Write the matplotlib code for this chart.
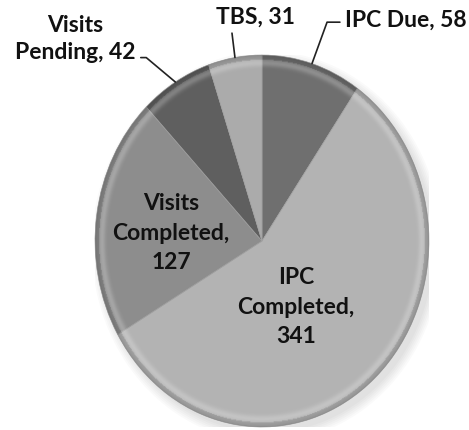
import numpy as np
import matplotlib.pyplot as plt
from matplotlib.patches import Circle

# Slice data (clockwise from 12 o'clock)
labels = ["IPC Due", "IPC Completed", "Visits Completed", "Visits Pending", "TBS"]
values = [58, 341, 127, 42, 31]
colors = ["#6f6f6f", "#b3b3b3", "#8d8d8d", "#5f5f5f", "#ababab"]

plt.rcParams['font.family'] = ['Lato', 'DejaVu Sans']

fig = plt.figure(figsize=(4.69, 4.30), dpi=100)
ax = fig.add_axes([0.2026, 0.007, 0.712, 0.865])

# soft drop shadow
for k in range(6):
    s = Circle((0.03, -0.03), 1.0 + 0.01 * k, color="black", alpha=0.02, zorder=0, lw=0)
    ax.add_patch(s)

wedges, _ = ax.pie(values, colors=colors, startangle=90, counterclock=False,
                   radius=1.0, wedgeprops=dict(edgecolor="#a0a0a0", linewidth=0.5))
for w in wedges:
    w.set_zorder(2)

# bevel shading over the pie
n = 400
g = np.linspace(-1, 1, n)
X, Y = np.meshgrid(g, g)
R = np.sqrt(X ** 2 + Y ** 2)
rgba = np.zeros((n, n, 4))
dark = np.clip((R - 0.93) / 0.07, 0, 1) ** 1.5 * 0.18
light = np.exp(-((R - 0.96) / 0.02) ** 2) * 0.22
rgba[..., :3] = np.where(light[..., None] > dark[..., None], 1.0, 0.0)
rgba[..., 3] = np.maximum(dark, light)
img = ax.imshow(rgba, extent=[-1, 1, -1, 1], origin="lower", zorder=3, interpolation="bilinear")
clip = Circle((0, 0), 1.0, transform=ax.transData)
img.set_clip_path(clip)

ax.set_aspect("auto")
ax.set_xlim(-1, 1)
ax.set_ylim(-1, 1)
ax.axis("off")

fs = 16.5
tk = dict(fontsize=fs, fontweight="bold", color="#111111", zorder=5)

# inner labels
ax.text(-0.545, 0.043, "Visits\nCompleted,\n127", ha="center", va="center",
        linespacing=1.5, **tk)
ax.text(0.204, -0.355, "IPC\nCompleted,\n341", ha="center", va="center",
        linespacing=1.5, **tk)

# outer labels with leader lines to wedge mid points
mids = [np.deg2rad((w.theta1 + w.theta2) / 2) for w in wedges]


def rim(i):
    return (np.cos(mids[i]) * 1.0, np.sin(mids[i]) * 1.0)


lp = dict(arrowstyle="-", color="#222222", lw=1.2, shrinkA=2, shrinkB=0)
ax.annotate("IPC Due, 58", xy=rim(0), xytext=(0.5, 1.188), ha="left", va="center",
            arrowprops=dict(relpos=(0, 0.4), connectionstyle="angle,angleA=180,angleB=70", **lp),
            annotation_clip=False, **tk)
ax.annotate("TBS, 31", xy=rim(4), xytext=(-0.042, 1.204), ha="center", va="center",
            arrowprops=dict(relpos=(0.2, 0.0), connectionstyle="arc3", **lp),
            annotation_clip=False, **tk)
ax.annotate("Visits\nPending, 42", xy=rim(3), xytext=(-1.12, 1.086), ha="center", va="center",
            linespacing=1.4,
            arrowprops=dict(relpos=(1.0, 0.12), connectionstyle="angle,angleA=0,angleB=140", **lp),
            annotation_clip=False, **tk)

fig.savefig("out.png", dpi=100)
